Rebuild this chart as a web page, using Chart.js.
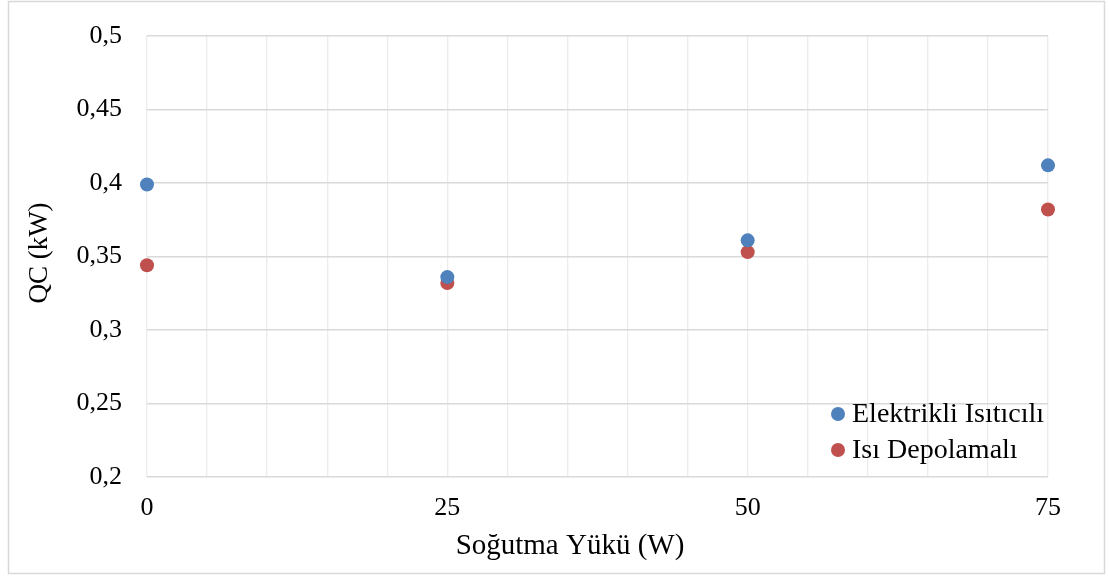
<!DOCTYPE html>
<html>
<head>
<meta charset="utf-8">
<script src="https://cdn.jsdelivr.net/npm/chart.js@4.4.0/dist/chart.umd.min.js"></script>
<style>
  html, body { margin: 0; padding: 0; background: #fff; }
  #wrap { position: relative; width: 1109px; height: 577px; }
</style>
</head>
<body>
<div id="wrap"><canvas id="qcChart" width="1109" height="577"></canvas></div>
<script>
// data
const loads = [0, 25, 50, 75];
const elektrikli = [0.399, 0.336, 0.361, 0.412];
const depolamali = [0.344, 0.332, 0.353, 0.382];
const seriesNames = ['Elektrikli Isıtıcılı', 'Isı Depolamalı'];
const seriesColors = ['#4f81bd', '#c0504d'];
const xTickLabels = [0, 25, 50, 75];
const xTitle = 'Soğutma Yükü (W)';
const yTitle = 'QC (kW)';

const serif = '"Liberation Serif", "Times New Roman", serif';

function toPoints(ys) {
    return loads.map((x, i) => ({ x: x, y: ys[i] }));
}

// frame, axis titles and the legend inside the plot
const decor = {
    id: 'decor',
    beforeDraw(chart) {
        const c = chart.ctx;
        c.save();
        c.fillStyle = '#fff';
        c.fillRect(0, 0, chart.width, chart.height);
        c.strokeStyle = '#d9d9d9';
        c.lineWidth = 1.5;
        c.strokeRect(8.5, 1.5, 1096, 572);
        c.restore();
    },
    afterDraw(chart) {
        const c = chart.ctx;
        c.save();
        c.fillStyle = '#000';
        c.font = '29px ' + serif;
        c.textAlign = 'center';
        c.textBaseline = 'middle';
        c.fillText(xTitle, 570, 546);

        c.font = '27px ' + serif;
        c.translate(40, 253);
        c.rotate(-Math.PI / 2);
        c.fillText(yTitle, 0, 0);
        c.restore();

        c.save();
        c.font = '28px ' + serif;
        c.textBaseline = 'middle';
        chart.data.datasets.forEach((ds, i) => {
            const y = 414 + i * 36;
            c.fillStyle = ds.backgroundColor;
            c.beginPath();
            c.arc(838, y, 7, 0, Math.PI * 2);
            c.fill();
            c.fillStyle = '#000';
            c.fillText(ds.label, 852, y + 1);
        });
        c.restore();
    }
};

const ctx = document.getElementById('qcChart');

new Chart(ctx, {
    type: 'scatter',
    data: {
        datasets: [{
            label: seriesNames[0],
            data: toPoints(elektrikli),
            backgroundColor: seriesColors[0],
            borderColor: seriesColors[0],
            pointRadius: 7,
            pointBorderWidth: 0,
            clip: false
        }, {
            label: seriesNames[1],
            data: toPoints(depolamali),
            backgroundColor: seriesColors[1],
            borderColor: seriesColors[1],
            pointRadius: 7,
            pointBorderWidth: 0,
            clip: false
        }]
    },
    options: {
        responsive: false,
        animation: false,
        layout: {
            padding: { top: 36, right: 61, bottom: 0, left: 0 }
        },
        plugins: {
            legend: { display: false },
            tooltip: { enabled: false }
        },
        scales: {
            x: {
                type: 'linear',
                min: 0,
                max: 75,
                afterFit: function (scale) {
                    scale.height = 100;
                    scale.paddingLeft = 0;
                    scale.paddingRight = 0;
                },
                border: { display: false },
                grid: { color: '#ececec', lineWidth: 1.3, drawTicks: false },
                ticks: {
                    stepSize: 5,
                    autoSkip: false,
                    maxRotation: 0,
                    padding: 16,
                    color: '#000',
                    font: { family: serif, size: 26 },
                    callback: function (v) {
                        return xTickLabels.includes(v) ? String(v) : '';
                    }
                }
            },
            y: {
                min: 0.2,
                max: 0.5,
                afterFit: function (scale) {
                    scale.width = 147;
                    scale.paddingTop = 0;
                    scale.paddingBottom = 0;
                },
                border: { display: false },
                grid: { color: '#d9d9d9', lineWidth: 1.5, drawTicks: false },
                ticks: {
                    stepSize: 0.05,
                    padding: 25,
                    color: '#000',
                    font: { family: serif, size: 26 },
                    callback: function (v) {
                        return String(Math.round(v * 100) / 100).replace('.', ',');
                    }
                }
            }
        }
    },
    plugins: [decor]
});
</script>
</body>
</html>
